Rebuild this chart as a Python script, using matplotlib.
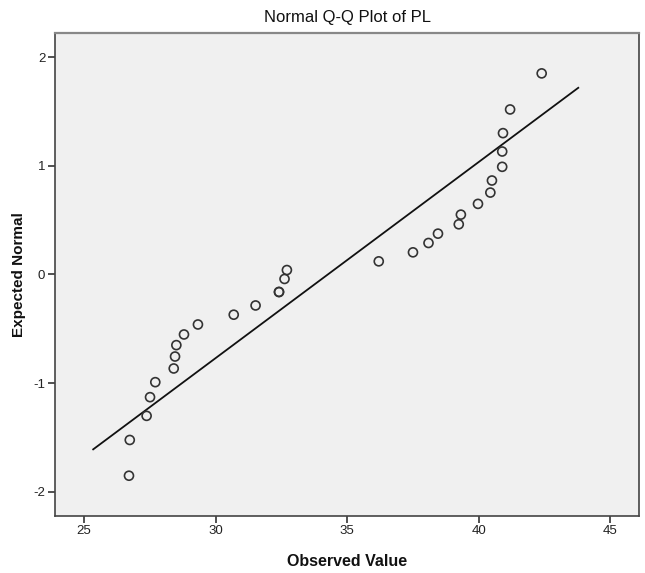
import numpy as np
import matplotlib
matplotlib.use("Agg")
import matplotlib.pyplot as plt

# Observed PL values and their expected normal scores
observed = [26.71, 26.74, 27.38, 27.51, 27.71, 28.41, 28.46, 28.51, 28.80, 29.33,
            30.69, 31.52, 32.41, 32.41, 32.62, 32.71,
            36.20, 37.50, 38.09, 38.45, 39.24, 39.32, 39.97, 40.44, 40.50,
            40.89, 40.89, 40.92, 41.19, 42.39]
expected = [-1.852, -1.523, -1.301, -1.129, -0.991, -0.865, -0.755, -0.650, -0.552, -0.460,
            -0.370, -0.285, -0.161, -0.161, -0.041, 0.041,
            0.121, 0.204, 0.290, 0.376, 0.462, 0.551, 0.650, 0.754, 0.865,
            0.991, 1.132, 1.301, 1.519, 1.851]
line_range = [25.35, 43.78]
x_ticks = [25, 30, 35, 40, 45]
y_ticks = [-2, -1, 0, 1, 2]

plt.rcParams["font.family"] = ["Liberation Sans", "DejaVu Sans"]
plt.rcParams["axes.unicode_minus"] = False

fig = plt.figure(figsize=(6.45, 5.73), dpi=100)
ax = fig.add_axes([0.0853, 0.1000, 0.9059, 0.8419])
ax.set_facecolor("#F0F0F0")

# reference line: standardised observed values
obs = np.asarray(observed)
mu, sd = obs.mean(), obs.std(ddof=1)
lx = np.asarray(line_range)
ax.plot(lx, (lx - mu) / sd, color="#111111", lw=1.3, zorder=2)

ax.scatter(observed, expected, s=42, facecolors="none", edgecolors="#333333",
           linewidths=1.2, zorder=3)

ax.set_xlim(23.9, 46.1)
ax.set_ylim(-2.22, 2.22)
ax.set_xticks(x_ticks)
ax.set_yticks(y_ticks)
ax.tick_params(direction="out", length=5, width=1.2, color="#333333",
               labelsize=9.5, labelcolor="#222222", pad=2)

for side in ("left", "bottom", "right"):
    ax.spines[side].set_color("#444444")
    ax.spines[side].set_linewidth(1.2)
ax.spines["top"].set_color("#888888")
ax.spines["top"].set_linewidth(1.6)

ax.set_title("Normal Q-Q Plot of PL", fontsize=12, color="#111111", pad=8)
ax.set_xlabel("Observed Value", fontsize=11.5, fontweight="bold", color="#111111",
              labelpad=12)
ax.set_ylabel("Expected Normal", fontsize=11, fontweight="bold", color="#111111")
ax.yaxis.set_label_coords(-0.050, 0.5)

fig.savefig("out.png", dpi=100, facecolor="white")
